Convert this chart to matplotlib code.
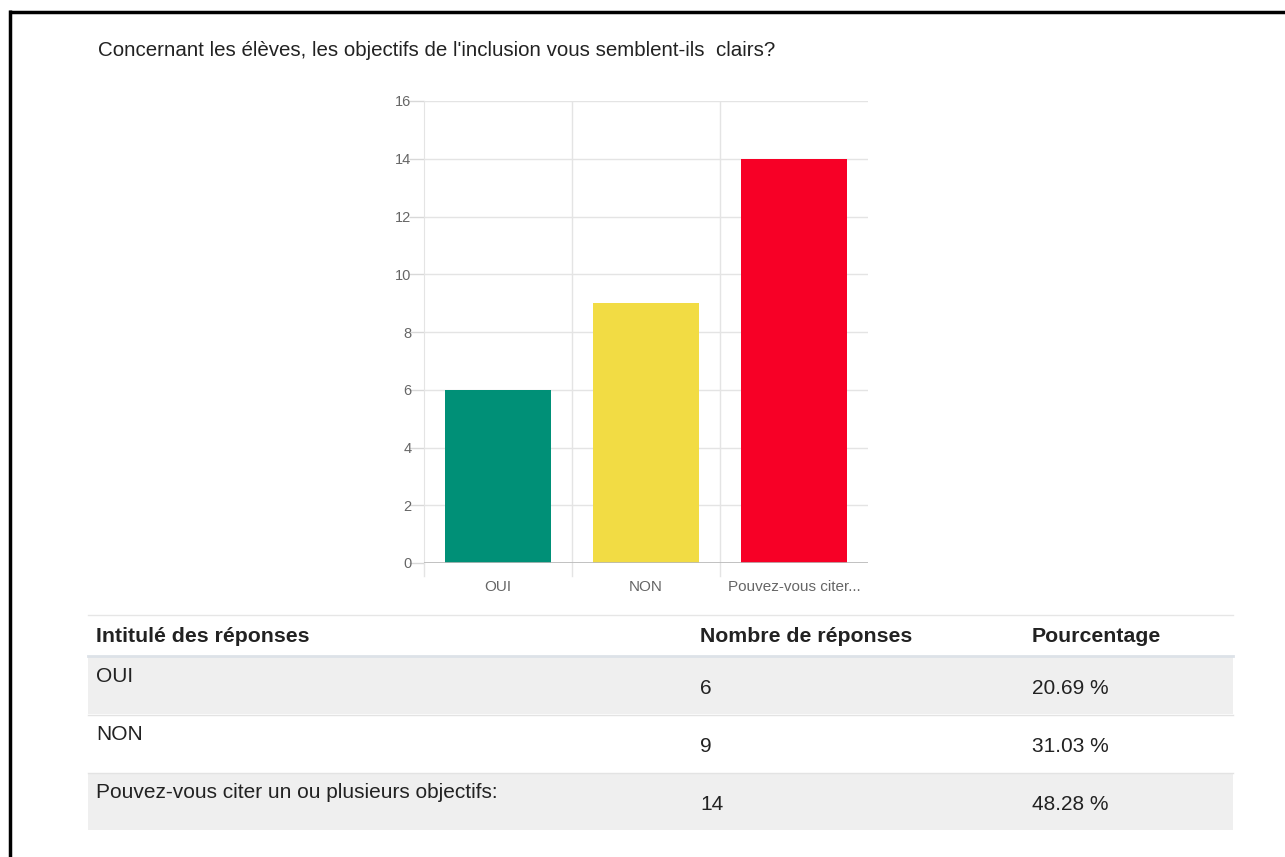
import matplotlib
matplotlib.use("Agg")
import matplotlib.pyplot as plt
from matplotlib.patches import Rectangle
from matplotlib.lines import Line2D

plt.rcParams['font.family'] = ['Liberation Sans', 'DejaVu Sans']

title = "Concernant les élèves, les objectifs de l'inclusion vous semblent-ils  clairs?"
categories = ["OUI", "NON", "Pouvez-vous citer..."]
counts = [6, 9, 14]
bar_colors = ["#009077", "#f2dc44", "#f70026"]
yticks = [0, 2, 4, 6, 8, 10, 12, 14, 16]

headers = ["Intitulé des réponses", "Nombre de réponses", "Pourcentage"]
row_labels = ["OUI", "NON", "Pouvez-vous citer un ou plusieurs objectifs:"]
row_counts = ["6", "9", "14"]
row_pcts = ["20.69 %", "31.03 %", "48.28 %"]

W, H = 1285, 857
fig = plt.figure(figsize=(W / 100, H / 100), dpi=100)
fig.patch.set_facecolor("white")


def fx(px):
    return px / W


def fy(py):
    return 1 - py / H


# frame lines on the left and top
fig.add_artist(Line2D([fx(10), fx(10)], [fy(10), 0], color="black", lw=2.5, solid_capstyle="butt",
                      transform=fig.transFigure))
fig.add_artist(Line2D([fx(9), 1], [fy(11.5), fy(11.5)], color="black", lw=2.5, solid_capstyle="butt",
                      transform=fig.transFigure))

fig.text(fx(98), fy(51), title, fontsize=14.8, color="#222222", va="center", ha="left")

# bar chart
ax = fig.add_axes([fx(424), fy(563), fx(868) - fx(424), fy(101) - fy(563)])
x = range(len(categories))
ax.bar(x, counts, width=0.72, color=bar_colors, zorder=3)
ax.set_xlim(-0.5, len(categories) - 0.5)
ax.set_ylim(0, 16)
ax.set_yticks(yticks)
ax.set_yticklabels([str(t) for t in yticks])
ax.tick_params(axis="y", length=11, width=1, color="#d8d8d8", labelcolor="#666666", labelsize=10.5, pad=-2)
ax.yaxis.grid(True, color="#e4e4e4", lw=1, zorder=0)
# vertical category separators
for b in [0.5, 1.5]:
    ax.axvline(b, color="#e4e4e4", lw=1, zorder=0)
ax.set_xticks(list(x))
ax.set_xticklabels(categories)
ax.tick_params(axis="x", length=0, labelcolor="#666666", labelsize=11, pad=12)
for b in [-0.5, 0.5, 1.5]:
    ax.plot([b, b], [0, -0.45], color="#e4e4e4", lw=1, clip_on=False, zorder=0)
for s in ["top", "right", "bottom"]:
    ax.spines[s].set_visible(False)
ax.spines["left"].set_color("#e4e4e4")
ax.axhline(0, color="#b8b8b8", lw=1.2, zorder=4)
ax.set_facecolor("none")

# table
tl, tr = 88, 1233
col_x = [96, 700, 1032]
fig.add_artist(Line2D([fx(tl), fx(tr)], [fy(615), fy(615)], color="#e6e6e6", lw=1, transform=fig.transFigure))
for cx, h in zip(col_x, headers):
    fig.text(fx(cx), fy(636), h, fontsize=15.3, fontweight="bold", color="#222222", va="center", ha="left")
fig.add_artist(Line2D([fx(tl), fx(tr)], [fy(656), fy(656)], color="#dde2e8", lw=2, transform=fig.transFigure))

row_top = 657
row_h = 58
for i, (lab, c, p) in enumerate(zip(row_labels, row_counts, row_pcts)):
    top = row_top + i * row_h
    if i % 2 == 0:
        fig.add_artist(Rectangle((fx(tl), fy(top + row_h - 1)), fx(tr) - fx(tl), fy(top) - fy(top + row_h - 1),
                                 facecolor="#efefef", edgecolor="none", transform=fig.transFigure))
    if i > 0:
        fig.add_artist(Line2D([fx(tl), fx(tr)], [fy(top - 0.5), fy(top - 0.5)], color="#e3e3e3", lw=1,
                              transform=fig.transFigure))
    fig.text(fx(col_x[0]), fy(top + 19.5), lab, fontsize=15, color="#222222", va="center", ha="left")
    fig.text(fx(col_x[1]), fy(top + 31.5), c, fontsize=15, color="#222222", va="center", ha="left")
    fig.text(fx(col_x[2]), fy(top + 31.5), p, fontsize=15, color="#222222", va="center", ha="left")

fig.savefig("out.png", dpi=100)
